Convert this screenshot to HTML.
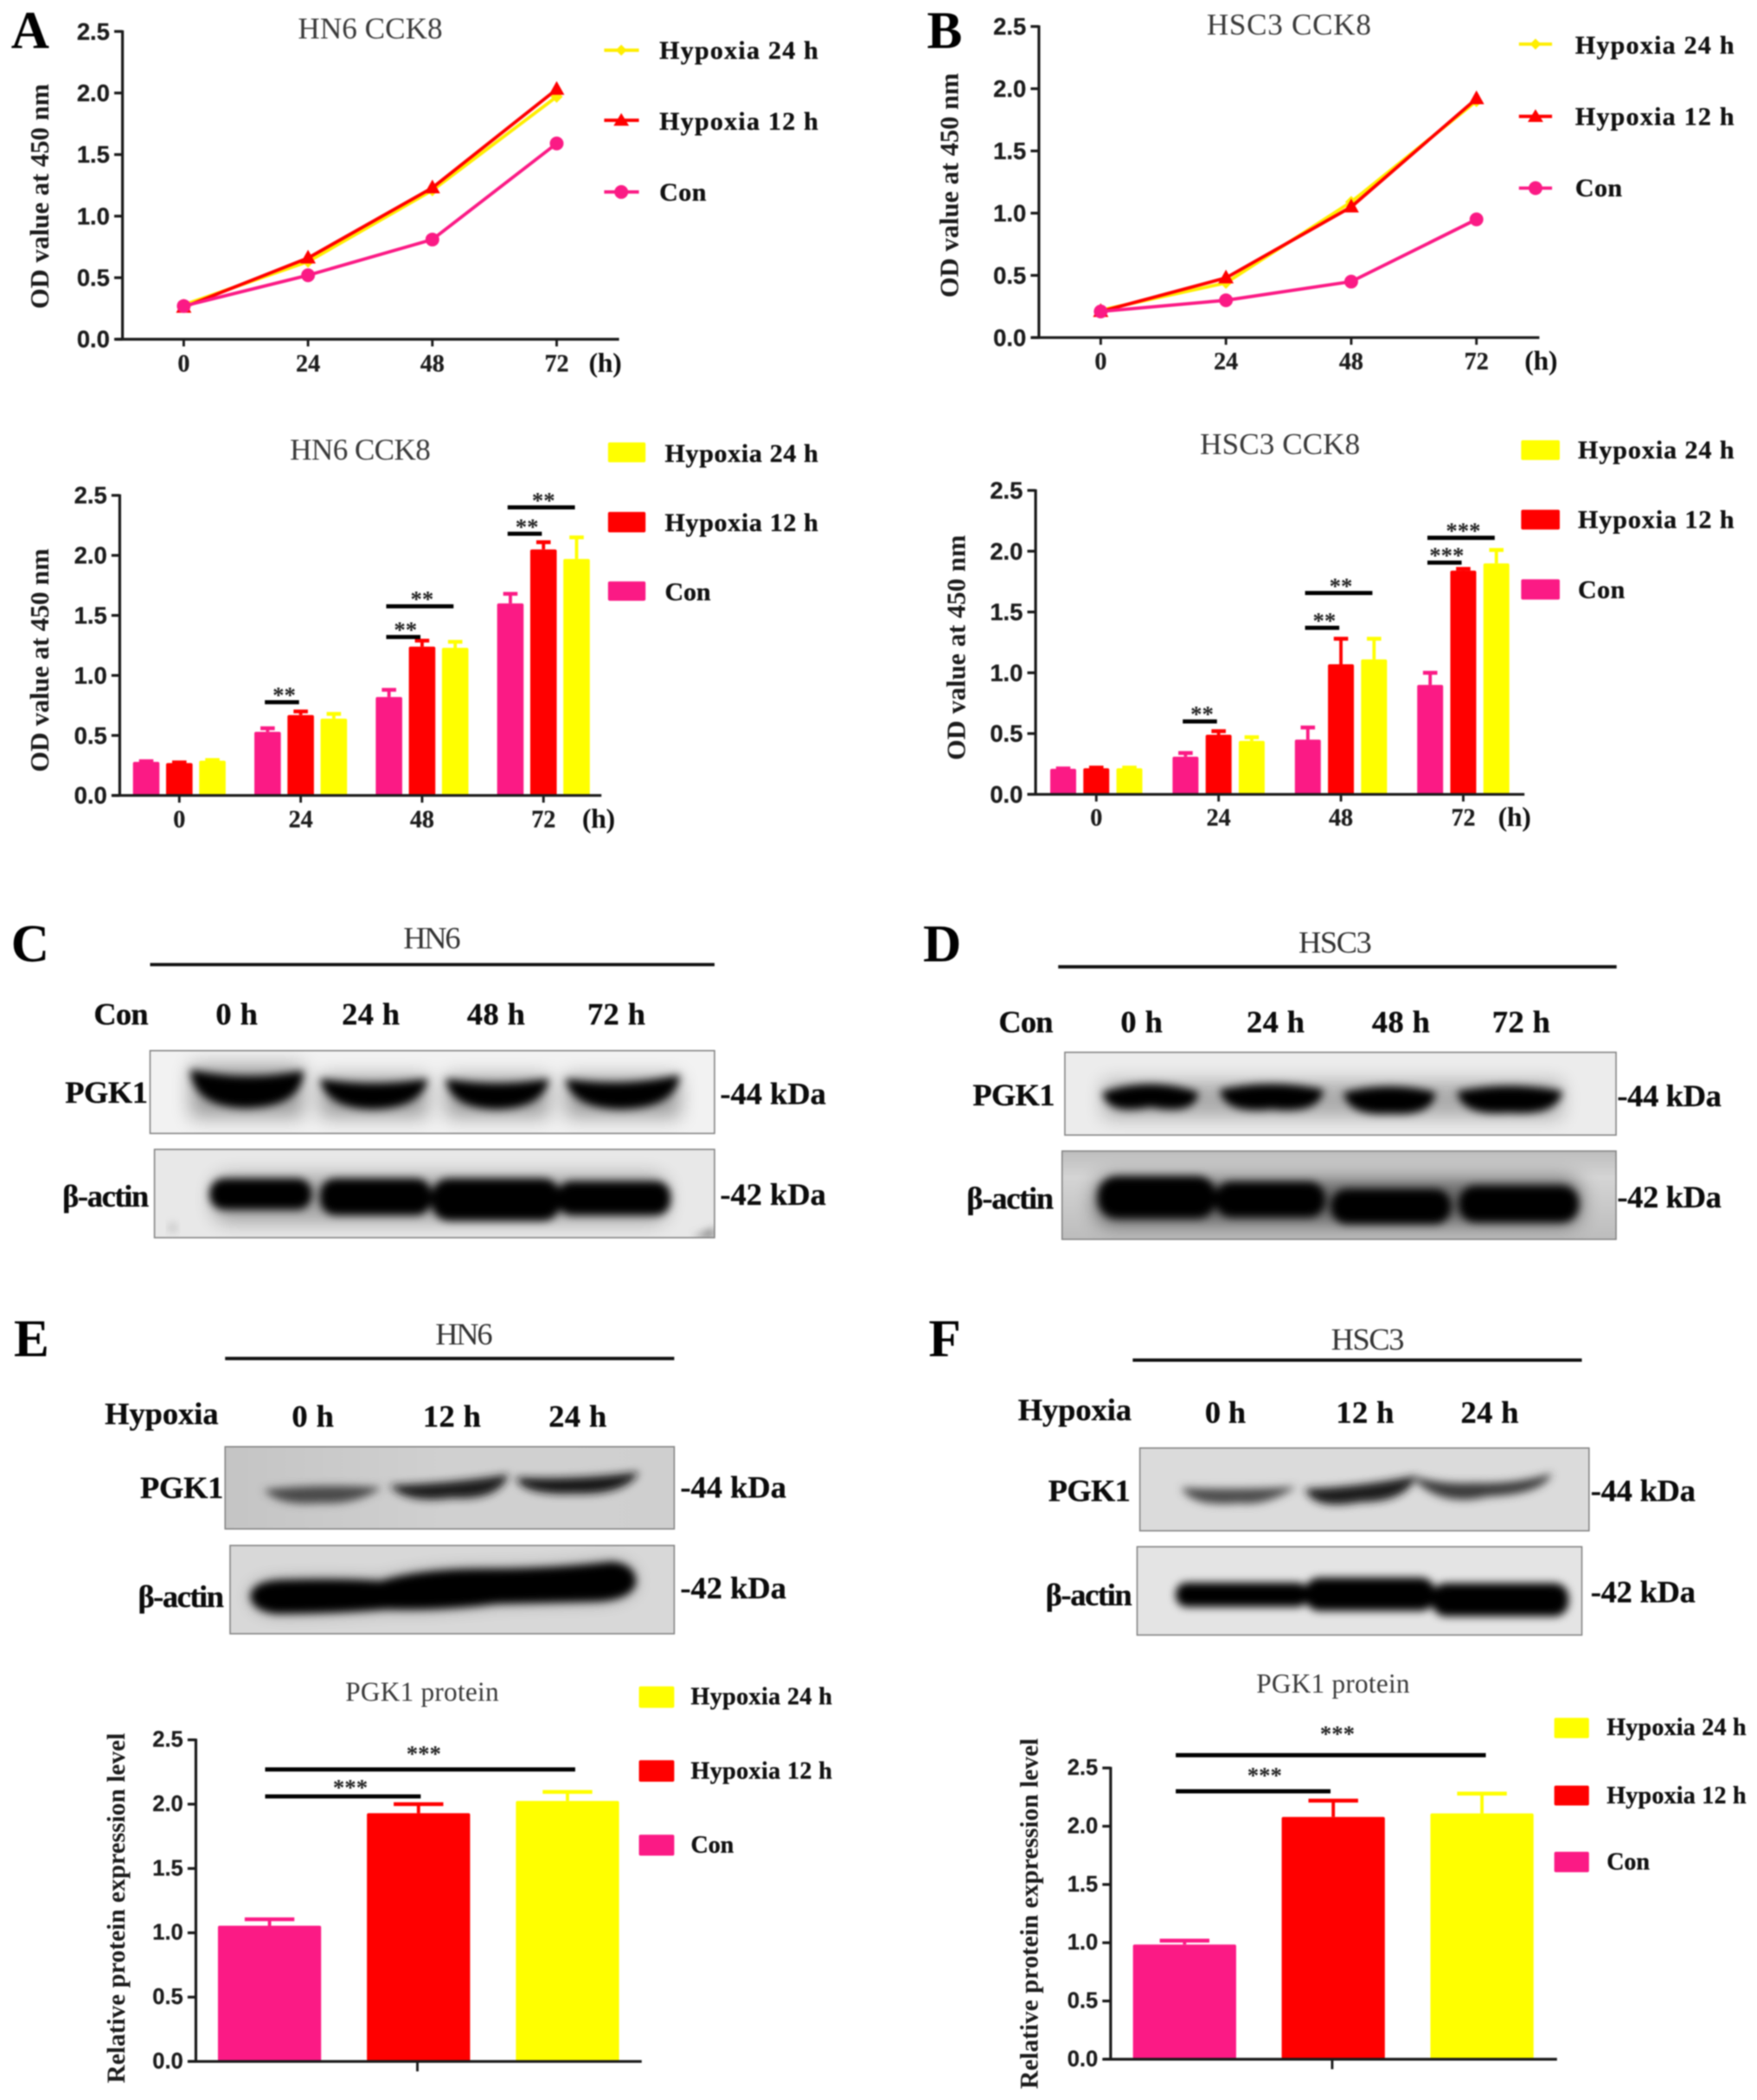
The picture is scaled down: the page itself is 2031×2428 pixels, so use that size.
<!DOCTYPE html>
<html lang="en">
<head>
<meta charset="utf-8">
<title>HN6 and HSC3 CCK8 and PGK1 figure</title>
<style>
html,body{margin:0;padding:0;background:#fff;width:2031px;height:2428px;overflow:hidden}
svg{display:block;filter:blur(.7px)}
text{dominant-baseline:central}
.t{font-family:"Liberation Serif",serif;fill:#3a3a3a;font-size:55px;text-anchor:middle}
.yt{font-family:"Liberation Serif",serif;font-weight:bold;fill:#1c1c1c;font-size:48px;text-anchor:middle}
.lg{font-family:"Liberation Serif",serif;font-weight:bold;fill:#111;font-size:47px;stroke:#111;stroke-width:.5px}
.lg2{font-family:"Liberation Serif",serif;font-weight:bold;fill:#111;font-size:44px;stroke:#111;stroke-width:.5px}
.pl{font-family:"Liberation Serif",serif;font-weight:bold;fill:#000;font-size:96px;dominant-baseline:alphabetic}
.b{font-family:"Liberation Serif",serif;font-weight:bold;fill:#0c0c0c;font-size:57px;stroke:#0c0c0c;stroke-width:.5px}
.bm{font-family:"Liberation Serif",serif;font-weight:bold;fill:#0c0c0c;font-size:57px;text-anchor:middle;stroke:#0c0c0c;stroke-width:.5px}
.thin{font-weight:normal;fill:#333;stroke:none}
.ytick{font-family:"Liberation Sans",sans-serif;font-weight:bold;fill:#1c1c1c;font-size:43px;text-anchor:end;stroke:#1c1c1c;stroke-width:.4px}
.xtick{font-family:"Liberation Serif",serif;font-weight:bold;fill:#1c1c1c;font-size:44px;text-anchor:middle;stroke:#1c1c1c;stroke-width:.4px}
.hr{font-family:"Liberation Serif",serif;font-weight:bold;fill:#111;font-size:50px;text-anchor:middle}
.star{font-family:"Liberation Serif",serif;font-weight:bold;fill:#222;font-size:42px;text-anchor:middle}
.box{stroke:#858585;stroke-width:2.5}
</style>
</head>
<body>
<svg xmlns="http://www.w3.org/2000/svg" width="2031" height="2428" viewBox="0 0 2031 2428">
<defs>
<filter id="core" x="-20%" y="-80%" width="140%" height="260%"><feGaussianBlur stdDeviation="7.5"/></filter>
<filter id="halo" x="-30%" y="-150%" width="160%" height="400%"><feGaussianBlur stdDeviation="17"/></filter>
<clipPath id="clip-c1"><rect x="272" y="274" width="1023" height="150"/></clipPath>
<clipPath id="clip-c2"><rect x="280" y="453" width="1015" height="160"/></clipPath>
<clipPath id="clip-e1"><rect x="408" y="992" width="814" height="149"/></clipPath>
<clipPath id="clip-e2"><rect x="417" y="1171" width="805" height="160"/></clipPath>
<clipPath id="clip-d1"><rect x="315" y="277" width="999" height="150"/></clipPath>
<clipPath id="clip-d2"><rect x="310" y="456" width="1004" height="160"/></clipPath>
<clipPath id="clip-f1"><rect x="451" y="386" width="814" height="150"/></clipPath>
<clipPath id="clip-f2"><rect x="446" y="565" width="806" height="160"/></clipPath>
<linearGradient id="grad-d2" x1="0" y1="0" x2="0" y2="1"><stop offset="0" stop-color="#bdbdbd"/><stop offset=".3" stop-color="#d4d4d4"/><stop offset="1" stop-color="#bcbcbc"/></linearGradient>
<linearGradient id="grad-e1" x1="0" y1="0" x2="1" y2="0"><stop offset="0" stop-color="#c4c4c4"/><stop offset=".5" stop-color="#d0d0d0"/><stop offset="1" stop-color="#cfcfcf"/></linearGradient>
</defs>

<!-- PANEL A static -->
<g transform="scale(.6378)">
<text class="pl" x="20" y="87">A</text>
<text class="t" x="671" y="52" textLength="262">HN6 CCK8</text>
<text class="yt" transform="translate(72,356) rotate(-90)" textLength="408">OD value at 450 nm</text>
<g>
<line x1="1095" x2="1158" y1="91" y2="91" stroke="#ffee00" stroke-width="6"/>
<polygon points="1126,81 1136,91 1126,101 1116,91" fill="#ffee00"/>
<text class="lg" x="1195" y="92" textLength="288">Hypoxia 24 h</text>
<line x1="1095" x2="1158" y1="218" y2="218" stroke="#ff0000" stroke-width="6"/>
<polygon points="1126,205 1140,228 1112,228" fill="#ff0000"/>
<text class="lg" x="1195" y="220" textLength="288">Hypoxia 12 h</text>
<line x1="1095" x2="1158" y1="348" y2="348" stroke="#fb1a85" stroke-width="6"/>
<circle cx="1126" cy="348" r="12.5" fill="#fb1a85"/>
<text class="lg" x="1195" y="349" textLength="85">Con</text>
</g>
<text class="t" x="653" y="815" textLength="255">HN6 CCK8</text>
<text class="yt" transform="translate(72,1197) rotate(-90)" textLength="405">OD value at 450 nm</text>
<g>
<rect x="1102" y="802" width="68" height="36" rx="3" fill="#ffff00"/>
<text class="lg" x="1205" y="822" textLength="278">Hypoxia 24 h</text>
<rect x="1102" y="928" width="68" height="37" rx="3" fill="#ff0000"/>
<text class="lg" x="1205" y="948" textLength="278">Hypoxia 12 h</text>
<rect x="1102" y="1054" width="68" height="35" rx="3" fill="#fb1a85"/>
<text class="lg" x="1205" y="1073" textLength="83">Con</text>
</g>
<g id="chart-a-line"></g>
<g id="chart-a-bar"></g>
</g>

<!-- PANEL B static -->
<g transform="translate(1030,0) scale(.6378)">
<text class="pl" x="65" y="87">B</text>
<text class="t" x="721" y="45" textLength="298">HSC3 CCK8</text>
<text class="yt" transform="translate(106,336) rotate(-90)" textLength="407">OD value at 450 nm</text>
<g>
<line x1="1138" x2="1198" y1="80" y2="80" stroke="#ffee00" stroke-width="6"/>
<polygon points="1168,70 1178,80 1168,90 1158,80" fill="#ffee00"/>
<text class="lg" x="1240" y="82" textLength="288">Hypoxia 24 h</text>
<line x1="1138" x2="1198" y1="211" y2="211" stroke="#ff0000" stroke-width="6"/>
<polygon points="1168,198 1182,221 1154,221" fill="#ff0000"/>
<text class="lg" x="1240" y="212" textLength="288">Hypoxia 12 h</text>
<line x1="1138" x2="1198" y1="341" y2="341" stroke="#fb1a85" stroke-width="6"/>
<circle cx="1168" cy="341" r="12.5" fill="#fb1a85"/>
<text class="lg" x="1240" y="341" textLength="85">Con</text>
</g>
<text class="t" x="705" y="805" textLength="290">HSC3 CCK8</text>
<text class="yt" transform="translate(118,1174) rotate(-90)" textLength="408">OD value at 450 nm</text>
<g>
<rect x="1142" y="798" width="70" height="36" rx="3" fill="#ffff00"/>
<text class="lg" x="1245" y="816" textLength="283">Hypoxia 24 h</text>
<rect x="1142" y="924" width="70" height="36" rx="3" fill="#ff0000"/>
<text class="lg" x="1245" y="942" textLength="283">Hypoxia 12 h</text>
<rect x="1142" y="1050" width="70" height="37" rx="3" fill="#fb1a85"/>
<text class="lg" x="1245" y="1069" textLength="85">Con</text>
</g>
<g id="chart-b-line"></g>
<g id="chart-b-bar"></g>
</g>

<!-- PANELS C and E blots -->
<g transform="translate(0,1040) scale(.6378)">
<text class="pl" x="20" y="112">C</text>
<text class="bm thin" x="783" y="70" textLength="104">HN6</text>
<line x1="272" x2="1295" y1="118" y2="118" stroke="#111" stroke-width="6"/>
<text class="b" x="170" y="208" textLength="99">Con</text>
<text class="bm" x="429" y="208" textLength="76">0 h</text>
<text class="bm" x="672" y="208" textLength="105">24 h</text>
<text class="bm" x="899" y="208" textLength="105">48 h</text>
<text class="bm" x="1117" y="208" textLength="105">72 h</text>
<rect class="box" x="272" y="274" width="1023" height="150" fill="#f2f2f2"/>
<g clip-path="url(#clip-c1)">
<g filter="url(#halo)" opacity=".35">
<path d="M345 300 L550 300 L550 395 L345 395Z M580 320 L775 320 L775 395 L580 395Z M808 320 L995 320 L995 395 L808 395Z M1025 320 L1232 320 L1232 395 L1025 395Z" fill="#000"/>
</g>
<g filter="url(#core)" fill="#000">
<path d="M345 308 Q445 332 550 310 Q548 376 445 378 Q350 376 345 308Z"/>
<path d="M580 325 Q675 342 775 325 Q765 378 675 380 Q590 378 580 325Z"/>
<path d="M808 325 Q900 342 995 325 Q985 378 900 380 Q815 378 808 325Z"/>
<path d="M1025 325 Q1125 342 1232 318 Q1225 378 1125 380 Q1035 378 1025 325Z"/>
</g>
</g>
<text class="b" x="118" y="350" textLength="150">PGK1</text>
<text class="b" x="1305" y="352" textLength="192">-44 kDa</text>
<rect class="box" x="280" y="453" width="1015" height="160" fill="#e8e8e8"/>
<g clip-path="url(#clip-c2)">
<g filter="url(#halo)" opacity=".3">
<rect x="385" y="500" width="825" height="85" rx="30" fill="#000"/>
</g>
<g filter="url(#core)" fill="#000">
<rect x="380" y="506" width="185" height="56" rx="26"/>
<rect x="580" y="506" width="202" height="66" rx="28"/>
<rect x="782" y="506" width="234" height="76" rx="32"/>
<rect x="1010" y="511" width="205" height="61" rx="26"/>
</g>
<circle cx="313" cy="595" r="9" fill="#c6c6c6" filter="url(#core)"/>
<path d="M1255 613 L1295 595 L1295 613Z" fill="#777" filter="url(#core)"/>
</g>
<text class="b" x="113" y="538" textLength="157">β-actin</text>
<text class="b" x="1305" y="535" textLength="192">-42 kDa</text>

<text class="pl" x="25" y="828">E</text>
<text class="bm thin" x="841" y="788" textLength="104">HN6</text>
<line x1="408" x2="1222" y1="832" y2="832" stroke="#111" stroke-width="6"/>
<text class="b" x="190" y="932" textLength="206">Hypoxia</text>
<text class="bm" x="567" y="937" textLength="76">0 h</text>
<text class="bm" x="819" y="937" textLength="105">12 h</text>
<text class="bm" x="1047" y="937" textLength="105">24 h</text>
<rect class="box" x="408" y="992" width="814" height="149" fill="url(#grad-e1)"/>
<g clip-path="url(#clip-e1)">
<g filter="url(#core)">
<path d="M478 1070 Q580 1058 692 1066 Q645 1098 580 1094 Q505 1100 478 1070Z" fill="#4a4a4a"/>
<path d="M706 1062 Q820 1058 922 1042 Q905 1090 820 1085 Q735 1096 706 1062Z" fill="#1c1c1c"/>
<path d="M935 1048 Q1050 1052 1158 1038 Q1135 1080 1040 1077 Q945 1080 935 1048Z" fill="#141414"/>
</g>
</g>
<text class="b" x="254" y="1066" textLength="151">PGK1</text>
<text class="b" x="1233" y="1065" textLength="192">-44 kDa</text>
<rect class="box" x="417" y="1171" width="805" height="160" fill="#d8d8d8"/>
<g clip-path="url(#clip-e2)">
<path filter="url(#halo)" opacity=".4" d="M458 1262 Q462 1238 520 1238 Q620 1235 690 1240 Q760 1218 880 1218 Q1000 1218 1110 1205 Q1150 1210 1148 1240 Q1140 1265 1080 1268 L900 1272 Q800 1285 700 1282 Q600 1290 500 1290 Q460 1285 458 1262Z"/>
<path filter="url(#core)" fill="#000" d="M454 1262 Q458 1234 520 1234 Q620 1231 690 1236 Q760 1214 880 1214 Q1000 1214 1110 1201 Q1154 1206 1152 1240 Q1144 1269 1080 1272 L900 1276 Q800 1289 700 1286 Q600 1294 500 1294 Q456 1289 454 1262Z"/>
</g>
<text class="b" x="250" y="1264" textLength="156">β-actin</text>
<text class="b" x="1233" y="1248" textLength="192">-42 kDa</text>
</g>

<!-- PANELS D and F blots -->
<g transform="translate(1030,1040) scale(.6378)">
<text class="pl" x="58" y="112">D</text>
<text class="bm thin" x="805" y="78" textLength="133">HSC3</text>
<line x1="303" x2="1315" y1="122" y2="122" stroke="#111" stroke-width="6"/>
<text class="b" x="195" y="222" textLength="99">Con</text>
<text class="bm" x="454" y="222" textLength="76">0 h</text>
<text class="bm" x="697" y="222" textLength="105">24 h</text>
<text class="bm" x="924" y="222" textLength="105">48 h</text>
<text class="bm" x="1142" y="222" textLength="105">72 h</text>
<rect class="box" x="315" y="277" width="999" height="150" fill="#ececec"/>
<g clip-path="url(#clip-d1)">
<g filter="url(#halo)" opacity=".28">
<path d="M385 330 L1215 330 L1215 395 L385 395Z" fill="#000"/>
</g>
<g filter="url(#core)" fill="#000">
<path d="M383 350 Q470 320 557 350 Q552 392 470 376 Q392 392 383 350Z"/>
<path d="M596 345 Q690 324 784 345 Q777 390 690 380 Q603 390 596 345Z"/>
<path d="M820 350 Q905 328 987 350 Q982 393 905 388 Q828 393 820 350Z"/>
<path d="M1026 348 Q1120 328 1217 348 Q1207 393 1120 386 Q1033 393 1026 348Z"/>
</g>
</g>
<text class="b" x="148" y="354" textLength="149">PGK1</text>
<text class="b" x="1316" y="356" textLength="189">-44 kDa</text>
<rect class="box" x="310" y="456" width="1004" height="160" fill="url(#grad-d2)"/>
<g clip-path="url(#clip-d2)">
<g filter="url(#halo)" opacity=".5">
<rect x="370" y="505" width="880" height="85" rx="30" fill="#000"/>
</g>
<g filter="url(#core)" fill="#000">
<rect x="375" y="502" width="214" height="76" rx="34"/>
<rect x="587" y="512" width="200" height="64" rx="30"/>
<rect x="797" y="525" width="218" height="63" rx="30"/>
<rect x="1029" y="519" width="217" height="66" rx="30"/>
</g>
</g>
<text class="b" x="137" y="542" textLength="158">β-actin</text>
<text class="b" x="1316" y="539" textLength="189">-42 kDa</text>

<text class="pl" x="68" y="828">F</text>
<text class="bm thin" x="864" y="797" textLength="133">HSC3</text>
<line x1="438" x2="1252" y1="835" y2="835" stroke="#111" stroke-width="6"/>
<text class="b" x="230" y="925" textLength="206">Hypoxia</text>
<text class="bm" x="606" y="930" textLength="74">0 h</text>
<text class="bm" x="859" y="930" textLength="105">12 h</text>
<text class="bm" x="1085" y="930" textLength="105">24 h</text>
</g>
<g transform="translate(1030,1428) scale(.6378)">
<rect class="box" x="451" y="386" width="814" height="150" fill="#dbdbdb"/>
<g clip-path="url(#clip-f1)">
<g filter="url(#core)">
<path d="M526 458 Q630 462 735 456 Q680 492 630 486 Q545 494 526 458Z" fill="#4c4c4c"/>
<path d="M750 460 Q850 456 952 436 Q935 484 850 484 Q765 500 750 460Z" fill="#1e1e1e"/>
<path d="M950 438 Q1000 452 1060 449 Q1130 452 1198 432 Q1182 470 1080 474 Q1000 494 950 445Z" fill="#3a3a3a"/>
</g>
</g>
<text class="b" x="285" y="463" textLength="149">PGK1</text>
<text class="b" x="1268" y="463" textLength="190">-44 kDa</text>
<rect class="box" x="446" y="565" width="806" height="160" fill="#e4e4e4"/>
<g clip-path="url(#clip-f2)">
<g filter="url(#core)" fill="#000">
<rect x="516" y="630" width="240" height="44" rx="20"/>
<rect x="750" y="621" width="236" height="60" rx="26"/>
<rect x="980" y="631" width="248" height="60" rx="26"/>
</g>
</g>
<text class="b" x="280" y="652" textLength="157">β-actin</text>
<text class="b" x="1268" y="647" textLength="190">-42 kDa</text>
<text class="t" style="font-size:49px" x="801" y="813" textLength="278">PGK1 protein</text>
<text class="yt" style="font-size:46px" transform="translate(252,1230) rotate(-90)" textLength="636">Relative protein expression level</text>
<g>
<rect x="1202" y="875" width="63" height="37" rx="3" fill="#ffff00"/>
<text class="lg2" x="1297" y="893" textLength="253">Hypoxia 24 h</text>
<rect x="1202" y="998" width="63" height="36" rx="3" fill="#ff0000"/>
<text class="lg2" x="1297" y="1017" textLength="253">Hypoxia 12 h</text>
<rect x="1202" y="1118" width="63" height="37" rx="3" fill="#fb1a85"/>
<text class="lg2" x="1297" y="1137" textLength="78">Con</text>
</g>
<g id="chart-f-bar"></g>
</g>

<g transform="translate(0,1428) scale(.6378)">
<text class="t" style="font-size:49px" x="765" y="828" textLength="278">PGK1 protein</text>
<text class="yt" style="font-size:46px" transform="translate(212,1220) rotate(-90)" textLength="635">Relative protein expression level</text>
<g>
<rect x="1158" y="818" width="64" height="39" rx="3" fill="#ffff00"/>
<text class="lg2" x="1252" y="837" textLength="256">Hypoxia 24 h</text>
<rect x="1158" y="952" width="64" height="39" rx="3" fill="#ff0000"/>
<text class="lg2" x="1252" y="972" textLength="256">Hypoxia 12 h</text>
<rect x="1158" y="1087" width="64" height="38" rx="3" fill="#fb1a85"/>
<text class="lg2" x="1252" y="1106" textLength="78">Con</text>
</g>
<g id="chart-e-bar"></g>
</g>
</svg>

<script>
// Shared labels
const yTickLabels = ['0.0', '0.5', '1.0', '1.5', '2.0', '2.5'];
const yTickValues = [0, 0.5, 1, 1.5, 2, 2.5];
const timeLabels = ['0', '24', '48', '72'];
const yMax = 2.5;

// HN6 CCK8 line chart
const hn6LineCon = [0.27, 0.52, 0.81, 1.59];
const hn6Line12h = [0.26, 0.66, 1.23, 2.03];
const hn6Line24h = [0.28, 0.63, 1.21, 1.97];

// HSC3 CCK8 line chart
const hsc3LineCon = [0.21, 0.30, 0.45, 0.95];
const hsc3Line12h = [0.21, 0.48, 1.05, 1.92];
const hsc3Line24h = [0.22, 0.44, 1.09, 1.90];

// HN6 CCK8 bar chart
const hn6BarCon = [0.28, 0.53, 0.82, 1.60];
const hn6Bar12h = [0.27, 0.67, 1.24, 2.05];
const hn6Bar24h = [0.29, 0.64, 1.23, 1.97];
const hn6ErrCon = [0.005, 0.03, 0.06, 0.08];
const hn6Err12h = [0.005, 0.03, 0.05, 0.06];
const hn6Err24h = [0.005, 0.04, 0.05, 0.18];
const hn6SigGroup = [1, 2, 2, 3, 3];
const hn6SigTo = [1, 1, 2, 1, 2];
const hn6SigLevel = [0.777, 1.32, 1.576, 2.18, 2.40];
const hn6SigLabel = ['**', '**', '**', '**', '**'];

// HSC3 CCK8 bar chart
const hsc3BarCon = [0.21, 0.31, 0.45, 0.90];
const hsc3Bar12h = [0.215, 0.49, 1.07, 1.84];
const hsc3Bar24h = [0.215, 0.44, 1.11, 1.90];
const hsc3ErrCon = [0.003, 0.03, 0.10, 0.10];
const hsc3Err12h = [0.005, 0.03, 0.21, 0.015];
const hsc3Err24h = [0.005, 0.03, 0.17, 0.11];
const hsc3SigGroup = [1, 2, 2, 3, 3];
const hsc3SigTo = [1, 1, 2, 1, 2];
const hsc3SigLevel = [0.60, 1.37, 1.656, 1.906, 2.11];
const hsc3SigLabel = ['**', '**', '**', '***', '***'];

// PGK1 protein bar charts
const proteinCategories = ['Con', 'Hypoxia 12 h', 'Hypoxia 24 h'];
const hn6ProteinValues = [1.055, 1.93, 2.025];
const hn6ProteinErrors = [0.05, 0.07, 0.07];
const hn6ProteinSigTo = [1, 2];
const hn6ProteinSigLevel = [2.06, 2.27];
const hn6ProteinSigLabel = ['***', '***'];
const hsc3ProteinValues = [0.985, 2.08, 2.11];
const hsc3ProteinErrors = [0.033, 0.14, 0.17];
const hsc3ProteinSigTo = [1, 2];
const hsc3ProteinSigLevel = [2.30, 2.61];
const hsc3ProteinSigLabel = ['***', '***'];

const SVGNS = 'http://www.w3.org/2000/svg';
const PINK = '#fb1a85', RED = '#ff0000', YEL = '#ffff00', LYEL = '#ffee00', INK = '#1a1a1a';

function mk(parent, tag, name) {
  const el = document.createElementNS(SVGNS, tag);
  
  
  parent.appendChild(el);
  return el;
}
function set(el, attrs) { for (const k in attrs) el.setAttribute(k, attrs[k]); return el; }
function label(parent, cls, str, x, y, name) {
  const t = mk(parent, 'text', name);
  set(t, { class: cls, x: x, y: y });
  t.textContent = str;
  return t;
}
function yAxisFn(c) { return v => c.yZero - (v / yMax) * (c.yZero - c.yTop); }

function drawYAxis(g, c, y) {
  set(mk(g, 'line', 'y-axis'), { x1: c.axisX, x2: c.axisX, y1: y(yMax) - 2, y2: y(0) + 2, stroke: INK, 'stroke-width': 5 });
  yTickValues.forEach((v, i) => {
    set(mk(g, 'line', 'y-tick-' + yTickLabels[i]), { x1: c.axisX - 15, x2: c.axisX, y1: y(v), y2: y(v), stroke: INK, 'stroke-width': 5 });
    const t = label(g, 'ytick', yTickLabels[i], c.axisX - 23, y(v), 'y-tick-label-' + yTickLabels[i]);
    if (c.tickFont) t.style.fontSize = c.tickFont + 'px';
  });
}
function drawXAxisLine(g, c, y) {
  set(mk(g, 'line', 'x-axis'), { x1: c.xAxisStart, x2: c.xAxisEnd, y1: y(0), y2: y(0), stroke: INK, 'stroke-width': 5 });
}
function drawTimeTicks(g, c, y, xAt) {
  timeLabels.forEach((lab, i) => {
    set(mk(g, 'line', 'x-tick-' + lab), { x1: xAt(i), x2: xAt(i), y1: y(0), y2: y(0) + 13, stroke: INK, 'stroke-width': 4.5 });
    label(g, 'xtick', lab, xAt(i), c.labelY, 'x-tick-label-' + lab);
  });
  const h = label(g, 'hr', '(h)', c.hrX, c.labelY - 2, 'x-axis-unit');
  h.setAttribute('textLength', 60);
}

function drawLineChart(id, c, con, h12, h24) {
  const g = document.getElementById(id);
  const y = yAxisFn(c);
  const x = i => c.xFirst + i * c.xStep;
  drawYAxis(g, c, y);
  drawXAxisLine(g, c, y);
  drawTimeTicks(g, c, y, x);
  const series = [
    { vals: h24, color: LYEL, name: 'hypoxia-24h', kind: 'dot' },
    { vals: h12, color: RED, name: 'hypoxia-12h', kind: 'tri' },
    { vals: con, color: PINK, name: 'con', kind: 'circle' }
  ];
  series.forEach(s => {
    const pts = s.vals.map((v, i) => x(i) + ',' + y(v)).join(' ');
    set(mk(g, 'polyline', 'line-' + s.name), { points: pts, fill: 'none', stroke: s.color, 'stroke-width': 6 });
    s.vals.forEach((v, i) => {
      const px = x(i), py = y(v);
      if (s.kind === 'circle') {
        set(mk(g, 'circle', 'point-' + s.name + '-' + timeLabels[i]), { cx: px, cy: py, r: 12.5, fill: s.color });
      } else if (s.kind === 'tri') {
        const pp = [[px, py - 15], [px + 14, py + 10], [px - 14, py + 10]].map(p => p.join(',')).join(' ');
        set(mk(g, 'polygon', 'point-' + s.name + '-' + timeLabels[i]), { points: pp, fill: s.color });
      } else {
        const pp = [[px, py - 11], [px + 11, py], [px, py + 11], [px - 11, py]].map(p => p.join(',')).join(' ');
        set(mk(g, 'polygon', 'point-' + s.name + '-' + timeLabels[i]), { points: pp, fill: s.color });
      }
    });
  });
}

function drawBarRect(g, cx, w, v, err, color, capW, y, name) {
  set(mk(g, 'line', 'error-stem-' + name), { x1: cx, x2: cx, y1: y(v), y2: y(v + err), stroke: color, 'stroke-width': 6 });
  set(mk(g, 'line', 'error-cap-' + name), { x1: cx - capW / 2, x2: cx + capW / 2, y1: y(v + err), y2: y(v + err), stroke: color, 'stroke-width': 7 });
  set(mk(g, 'rect', 'bar-' + name), { x: cx - w / 2, y: y(v), width: w, height: y(0) - y(v), fill: color, rx: 3 });
}
function drawBracket(g, x1, x2, lineY, text, sx, sy, name) {
  set(mk(g, 'line', 'sig-line-' + name), { x1: x1, x2: x2, y1: lineY, y2: lineY, stroke: '#000', 'stroke-width': 7.5 });
  const t = label(g, 'star', text, sx, sy, 'sig-stars-' + name);
  t.style.dominantBaseline = 'alphabetic';
  t.setAttribute('y', sy + 21);
}

function drawGroupedBars(id, c, con, h12, h24, eCon, e12, e24, sigG, sigTo, sigL, sigT) {
  const g = document.getElementById(id);
  const y = yAxisFn(c);
  const x = i => c.xFirst + i * c.xStep;
  const bx = (i, j) => x(i) + (j - 1) * c.barGap;
  const rows = [[con, eCon, PINK, 'con'], [h12, e12, RED, 'hypoxia-12h'], [h24, e24, YEL, 'hypoxia-24h']];
  rows.forEach((r, j) => r[0].forEach((v, i) => {
    drawBarRect(g, bx(i, j), c.barW, v, r[1][i], r[2], 26, y, r[3] + '-' + timeLabels[i]);
  }));
  drawYAxis(g, c, y);
  drawXAxisLine(g, c, y);
  drawTimeTicks(g, c, y, x);
  sigG.forEach((gr, k) => {
    const a = bx(gr, 0), b = bx(gr, sigTo[k]);
    drawBracket(g, a - 5, b - 3, y(sigL[k]), sigT[k], (a + b) / 2, y(sigL[k]) - 20, 'group-' + timeLabels[gr] + '-' + k);
  });
}

function drawProteinBars(id, c, vals, errs, sigTo, sigL, sigT) {
  const g = document.getElementById(id);
  const y = yAxisFn(c);
  const x = i => c.xFirst + i * c.xStep;
  const colors = [PINK, RED, YEL];
  vals.forEach((v, i) => drawBarRect(g, x(i), c.barW, v, errs[i], colors[i], 90, y, proteinCategories[i].toLowerCase().replace(/ /g, '-')));
  drawYAxis(g, c, y);
  drawXAxisLine(g, c, y);
  set(mk(g, 'line', 'x-tick'), { x1: x(1) - 2, x2: x(1) - 2, y1: y(0), y2: y(0) + 18, stroke: INK, 'stroke-width': 4.5 });
  sigTo.forEach((to, k) => {
    const x1 = x(0) + c.sigStartDx, x2 = x(to) + c.sigEndDx[k];
    drawBracket(g, x1, x2, y(sigL[k]), sigT[k], c.starX[k], c.starY[k], 'comparison-' + k);
  });
}

drawLineChart('chart-a-line',
  { axisX: 222, yTop: 57, yZero: 615, xFirst: 333, xStep: 225.3, xAxisStart: 210, xAxisEnd: 1122, labelY: 660, hrX: 1097 },
  hn6LineCon, hn6Line12h, hn6Line24h);
drawLineChart('chart-b-line',
  { axisX: 268, yTop: 48, yZero: 612, xFirst: 380, xStep: 227, xAxisStart: 255, xAxisEnd: 1175, labelY: 656, hrX: 1178 },
  hsc3LineCon, hsc3Line12h, hsc3Line24h);
drawGroupedBars('chart-a-bar',
  { axisX: 217, yTop: 898, yZero: 1442, xFirst: 325, xStep: 220, xAxisStart: 203, xAxisEnd: 1090, barW: 48, barGap: 60, labelY: 1486, hrX: 1085 },
  hn6BarCon, hn6Bar12h, hn6Bar24h, hn6ErrCon, hn6Err12h, hn6Err24h, hn6SigGroup, hn6SigTo, hn6SigLevel, hn6SigLabel);
drawGroupedBars('chart-b-bar',
  { axisX: 262, yTop: 889, yZero: 1440, xFirst: 372, xStep: 221.7, xAxisStart: 247, xAxisEnd: 1148, barW: 47, barGap: 60, labelY: 1483, hrX: 1130 },
  hsc3BarCon, hsc3Bar12h, hsc3Bar24h, hsc3ErrCon, hsc3Err12h, hsc3Err24h, hsc3SigGroup, hsc3SigTo, hsc3SigLevel, hsc3SigLabel);
drawProteinBars('chart-e-bar',
  { axisX: 355, yTop: 915, yZero: 1498, xFirst: 488.5, xStep: 270, xAxisStart: 342, xAxisEnd: 1163, barW: 187, tickFont: 40, sigStartDx: -8, sigEndDx: [4, 14], starX: [635, 768], starY: [994, 933] },
  hn6ProteinValues, hn6ProteinErrors, hn6ProteinSigTo, hn6ProteinSigLevel, hn6ProteinSigLabel);
drawProteinBars('chart-f-bar',
  { axisX: 398, yTop: 966, yZero: 1494, xFirst: 532, xStep: 269.5, xAxisStart: 385, xAxisEnd: 1207, barW: 187, tickFont: 40, sigStartDx: -16, sigEndDx: [-5, 7], starX: [677, 809], starY: [972, 897] },
  hsc3ProteinValues, hsc3ProteinErrors, hsc3ProteinSigTo, hsc3ProteinSigLevel, hsc3ProteinSigLabel);
</script>
</body>
</html>
